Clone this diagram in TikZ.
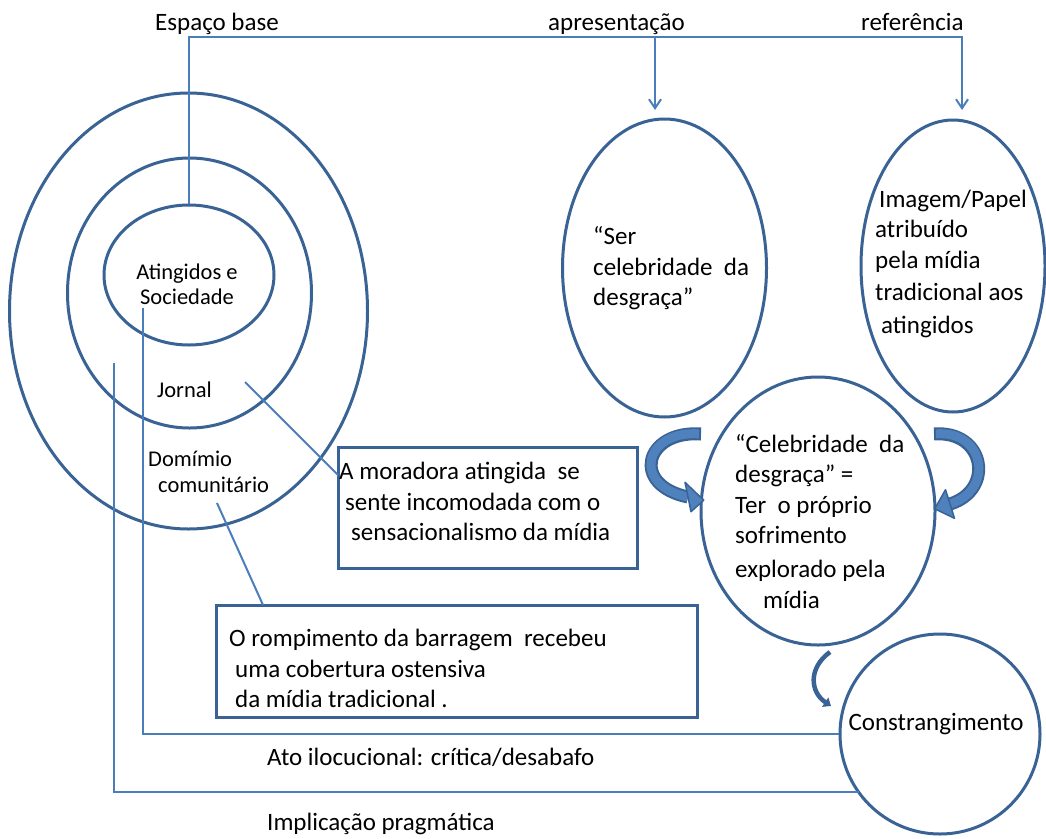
\documentclass[tikz,border=0pt]{standalone}
\usepackage{fontspec}
\setmainfont{Carlito}
\usetikzlibrary{shapes.geometric,arrows.meta}
\definecolor{dk}{HTML}{3A6395}
\definecolor{ln}{HTML}{4A7EBB}
\definecolor{af}{HTML}{4F81BD}
\newcommand\fa{\fontsize{25}{29}\selectfont}
\newcommand\fb{\fontsize{22.5}{26}\selectfont}
\begin{document}
\begin{tikzpicture}[x=1pt,y=-1pt,
  ell/.style={ellipse,draw=dk,line width=3pt,inner sep=0pt},
  box/.style={rectangle,draw=dk,line width=3pt,inner sep=0pt},
  conn/.style={draw=ln,line width=2pt},
  tx/.style={inner sep=0pt,anchor=base west,font=\fa},
  ts/.style={inner sep=0pt,anchor=base west,font=\fb},
  tip/.style={-{Straight Barb[length=9pt,width=12pt]}}]
\useasboundingbox (0,0) rectangle (1046,838);
\fill[white] (0,0) rectangle (1046,838);

% ellipses
\node[ell,minimum width=358pt,minimum height=436pt] (outer) at (188.5,311) {};
\node[ell,minimum width=244pt,minimum height=270pt] (middle) at (189.5,293) {};
\node[ell,minimum width=170pt,minimum height=140pt] (inner) at (189,275) {};
\node[ell,minimum width=204pt,minimum height=298pt] (ser) at (664.5,268) {};
\node[ell,minimum width=184pt,minimum height=292pt] (img) at (953,266) {};
\node[ell,minimum width=234pt,minimum height=268pt] (celeb) at (818,511) {};
\node[ell,minimum width=200pt,minimum height=200pt] (constr) at (940,734) {};

% boxes
\node[box,minimum width=299pt,minimum height=121pt] (b1) at (487.5,507.5) {};
\node[box,minimum width=481pt,minimum height=112pt] (b2) at (456.5,661) {};

% coordinates
\coordinate (tl) at (188,37);
\coordinate (ta) at (655,37);
\coordinate (tr) at (962,37);
\coordinate (ha) at (655,110);
\coordinate (hb) at (962,110);
\coordinate (j1) at (245,382);
\coordinate (j2) at (338,475);
\coordinate (d1) at (217,503);
\coordinate (d2) at (263,605);
\coordinate (c1) at (143,308);
\coordinate (c2) at (114,363);
\coordinate (c3) at (859,792);

% connectors
\draw[conn,tip] (inner.north) |- (tr) -- (hb);
\draw[conn,tip] (ta) -- (ha);
\draw[conn] (j1) -- (j2);
\draw[conn] (d1) -- (d2);
\draw[conn] (c1) |- (constr.west);
\draw[conn] (c2) |- (c3);

% block arrows
\draw[dk,line width=13pt] (701,434) .. controls (645,430) and (630,485) .. (688,497);
\draw[af,line width=9pt,shorten <=2pt] (701,434) .. controls (645,430) and (630,485) .. (688,497);
\filldraw[fill=af,draw=dk,line width=1.5pt,line join=round] (703.7,500.2) -- (685,482.3) -- (691,511.7) -- cycle;

\draw[dk,line width=13pt] (934,434) .. controls (985,430) and (995,490) .. (950,504);
\draw[af,line width=9pt,shorten <=2pt] (934,434) .. controls (985,430) and (995,490) .. (950,504);
\filldraw[fill=af,draw=dk,line width=1.5pt,line join=round] (934.7,508.8) -- (954.5,518.3) -- (945.5,489.7) -- cycle;

\draw[dk,line width=4.5pt,-{Triangle[length=7pt,width=11pt]}] (830,652) .. controls (808,668) and (810,692) .. (831,706);

% texts
\node[tx] (t1) at (155,30) {Espaço base};
\node[tx] (t2) at (548,30) {apresentação};
\node[tx] (t3) at (861,30) {referência};

\node[ts,anchor=base] (i1) at (187,279) {Atingidos e};
\node[ts,anchor=base] (i2) at (187,304) {Sociedade};
\node[ts] (jo) at (157,397) {Jornal};
\node[ts] (do1) at (148,466) {Domímio};
\node[ts] (do2) at (158,492) {comunitário};

\node[tx] (s1) at (593,244) {“Ser};
\node[tx] (s2) at (593,275) {celebridade~ da};
\node[tx] (s3) at (593,305) {desgraça”};

\node[tx] (m1) at (879,207) {Imagem/Papel};
\node[tx] (m2) at (875,237) {atribuído};
\node[tx] (m3) at (875,268) {pela mídia};
\node[tx] (m4) at (875,300) {tradicional aos};
\node[tx] (m5) at (881,333) {atingidos};

\node[tx] (e1) at (735,452) {“Celebridade~ da};
\node[tx] (e2) at (735,482) {desgraça” =};
\node[tx] (e3) at (735,513) {Ter~ o próprio};
\node[tx] (e4) at (735,543) {sofrimento};
\node[tx] (e5) at (735,577) {explorado pela};
\node[tx] (e6) at (763,608) {mídia};

\node[tx] (x1) at (339,479) {A moradora atingida~ se};
\node[tx] (x2) at (345,510) {sente incomodada com o};
\node[tx] (x3) at (351,540) {sensacionalismo da mídia};

\node[tx] (y1) at (229,646) {O rompimento da barragem~ recebeu};
\node[tx] (y2) at (235,677) {uma cobertura ostensiva};
\node[tx] (y3) at (235,707) {da mídia tradicional .};

\node[tx,anchor=base] (co) at (936,730) {Constrangimento};

\node[tx] (ato) at (267,765) {Ato ilocucional: crítica/desabafo};
\node[tx] (imp) at (267,830) {Implicação pragmática};
\end{tikzpicture}
\end{document}
